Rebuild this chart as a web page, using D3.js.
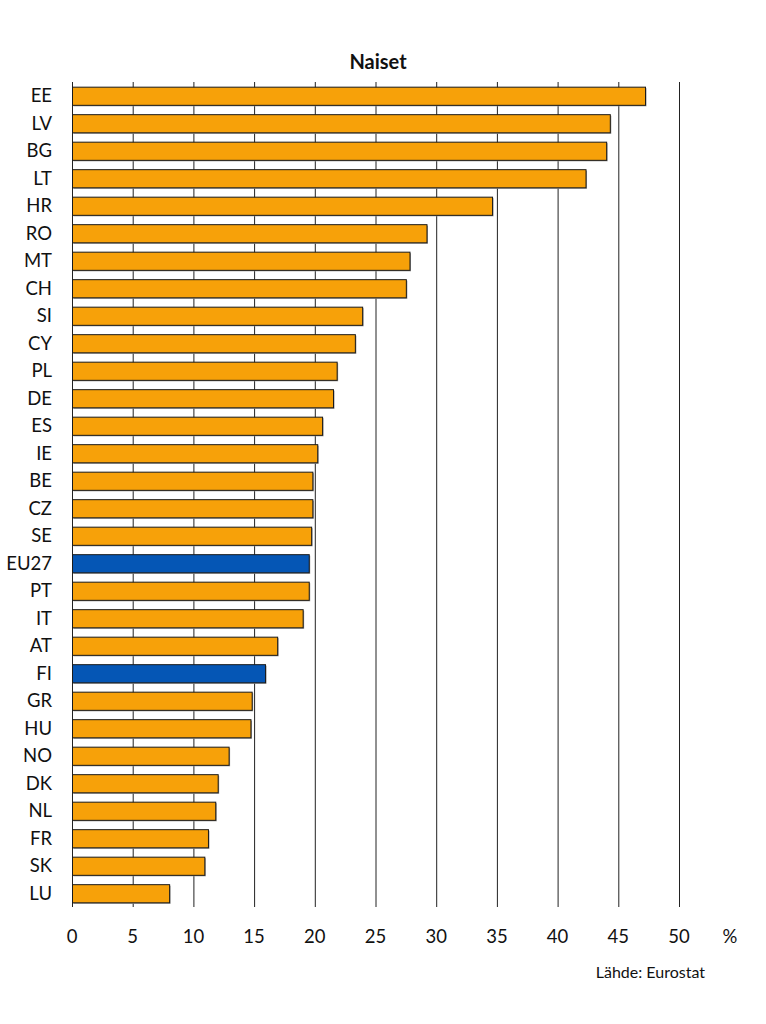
<!DOCTYPE html>
<html><head><meta charset="utf-8">
<script src="https://cdn.jsdelivr.net/npm/d3@7"></script>
<style>body{margin:0;background:#fff;}svg{display:block;}text{font-family:Lato,"Open Sans",sans-serif;fill:#111;}</style>
</head><body>
<svg id="chart" width="766" height="1024"></svg>
<script>
const categories = ["EE","LV","BG","LT","HR","RO","MT","CH","SI","CY","PL","DE","ES","IE","BE","CZ","SE","EU27","PT","IT","AT","FI","GR","HU","NO","DK","NL","FR","SK","LU"];
const values = [47.2,44.3,44.0,42.3,34.6,29.2,27.8,27.5,23.9,23.3,21.8,21.5,20.6,20.2,19.8,19.8,19.7,19.5,19.5,19.0,16.9,15.9,14.8,14.7,12.9,12.0,11.8,11.2,10.9,8.0];
const highlighted = ["EU27","FI"];
const tickValues = [0,5,10,15,20,25,30,35,40,45,50];
const title = "Naiset";
const unitLabel = "%";
const sourceLabel = "Lähde: Eurostat";

const svg = d3.select("#chart");
const x = d3.scaleLinear().domain([0,50]).range([72,679]);
const y = d3.scaleBand().domain(categories).range([82,907]).paddingInner(0.34).paddingOuter(0.17);

// gridlines
svg.append("g").selectAll("line").data(tickValues).join("line")
  .attr("x1", d=>x(d)+0.5).attr("x2", d=>x(d)+0.5)
  .attr("y1", 82).attr("y2", 907)
  .attr("stroke", "#222").attr("stroke-width", 1);

const data = categories.map((c,i)=>({c, v: values[i]}));
// shadows
svg.append("g").selectAll("rect").data(data).join("rect")
  .attr("x", x(0)+1.5).attr("y", d=>y(d.c)+1.5)
  .attr("width", d=>x(d.v)-x(0)).attr("height", y.bandwidth())
  .attr("fill", "#9a9a9a");
// bars
svg.append("g").selectAll("rect").data(data).join("rect")
  .attr("x", x(0)+0.5).attr("y", d=>y(d.c)+0.5)
  .attr("width", d=>x(d.v)-x(0)).attr("height", y.bandwidth())
  .attr("fill", d=>highlighted.includes(d.c) ? "#0556b5" : "#f7a109")
  .attr("stroke", "#1a1a1a").attr("stroke-width", 1);

// category labels
svg.append("g").selectAll("text").data(categories).join("text")
  .attr("x", 52).attr("y", d=>y(d)+y.bandwidth()/2)
  .attr("dy", "0.36em").attr("text-anchor", "end")
  .attr("font-size", 18.5).text(d=>d);

// x tick labels
svg.append("g").selectAll("text").data(tickValues).join("text")
  .attr("x", d=>x(d)).attr("y", 943)
  .attr("text-anchor", "middle").attr("font-size", 18.5).text(d=>d);

svg.append("text").attr("x", 730).attr("y", 943).attr("text-anchor","middle")
  .attr("font-size", 18.5).text(unitLabel);

svg.append("text").attr("x", 378).attr("y", 69).attr("text-anchor","middle")
  .attr("font-size", 20).attr("font-weight","bold").text(title);

svg.append("text").attr("x", 705).attr("y", 978).attr("text-anchor","end")
  .attr("font-size", 16).text(sourceLabel);
</script>
</body></html>
